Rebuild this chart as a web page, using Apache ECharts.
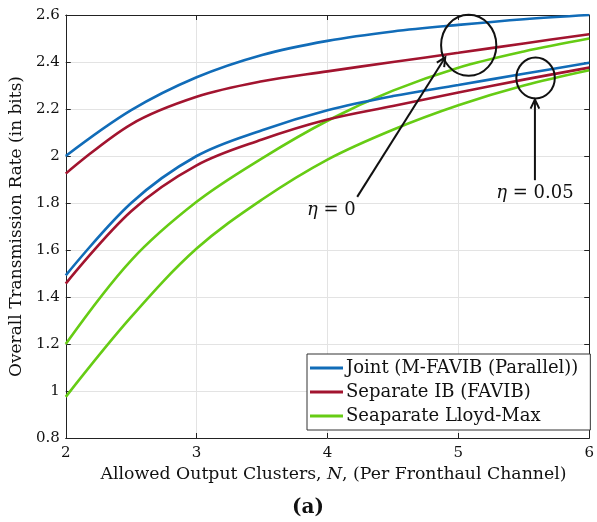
<!DOCTYPE html>
<html>
<head>
<meta charset="utf-8">
<script src="https://cdn.jsdelivr.net/npm/echarts@6/dist/echarts.min.js"></script>
<style>
  html, body { margin: 0; padding: 0; background: #fff; }
  #main { width: 597px; height: 522px; }
</style>
</head>
<body>
<div id="main"></div>
<script>
// N values (allowed output clusters)
var nVals = [2, 2.5, 3, 3.5, 4, 4.5, 5, 5.5, 6];

// eta = 0
var jointEta0    = [2.00, 2.195, 2.335, 2.430, 2.490, 2.530, 2.558, 2.582, 2.600];
var sepIbEta0    = [1.925, 2.135, 2.252, 2.318, 2.360, 2.400, 2.439, 2.479, 2.518];
var lloydEta0    = [1.20, 1.556, 1.805, 1.990, 2.150, 2.278, 2.376, 2.445, 2.500];
// eta = 0.05
var jointEta005  = [1.492, 1.800, 2.000, 2.110, 2.195, 2.255, 2.302, 2.350, 2.397];
var sepIbEta005  = [1.457, 1.765, 1.960, 2.070, 2.155, 2.213, 2.270, 2.325, 2.376];
var lloydEta005  = [0.975, 1.315, 1.606, 1.815, 1.985, 2.112, 2.216, 2.300, 2.365];

var legendNames = ['Joint (M-FAVIB (Parallel))', 'Separate IB (FAVIB)', 'Seaparate Lloyd-Max'];
var colors = ['#116cb8', '#a2142f', '#66cc14'];

var serif = 'DejaVu Serif';

function pairs(ys) {
  return nVals.map(function (n, i) { return [n, ys[i]]; });
}

function mkSeries(name, ys, color) {
  return {
    name: name,
    type: 'line',
    data: pairs(ys),
    smooth: 0.35,
    showSymbol: false,
    lineStyle: { color: color, width: 2.6 },
    itemStyle: { color: color },
    animation: false
  };
}

var chart = echarts.init(document.getElementById('main'));

var labelFmt = function (v) { return String(Math.round(v * 10) / 10); };

var option = {
  backgroundColor: '#fff',
  animation: false,
  grid: { left: 63, right: 4, top: 15, bottom: 84 },
  legend: {
    data: legendNames.map(function (n) { return { name: n, icon: 'rect' }; }),
    orient: 'vertical',
    left: 307,
    top: 354,
    itemWidth: 33,
    itemHeight: 3,
    itemGap: 6,
    padding: [5, 12, 5, 3],
    backgroundColor: '#fff',
    borderColor: '#333',
    borderWidth: 1,
    borderRadius: 0,
    textStyle: { fontFamily: serif, fontSize: 18, lineHeight: 16, color: '#111', padding: [0, 0, 0, -2] }
  },
  xAxis: [{
    type: 'value', min: 2, max: 6, interval: 1,
    name: 'Allowed Output Clusters, {i|N}, (Per Fronthaul Channel)',
    nameLocation: 'middle', nameGap: 27,
    nameTextStyle: { fontFamily: serif, fontSize: 17.3, color: '#111', padding: [0, 0, 0, 12],
      rich: { i: { fontFamily: serif, fontStyle: 'italic', fontSize: 17.3, color: '#111' } } },
    axisLine: { show: true, lineStyle: { color: '#222', width: 1 } },
    axisTick: { show: true, inside: true, length: 5, lineStyle: { color: '#222' } },
    axisLabel: { fontFamily: serif, fontSize: 15, color: '#111', margin: 8 },
    splitLine: { show: true, lineStyle: { color: '#e3e3e3', width: 1 } }
  }, {
    type: 'value', min: 2, max: 6, interval: 1, position: 'top',
    axisLine: { show: true, lineStyle: { color: '#222', width: 1 } },
    axisTick: { show: true, inside: true, length: 5, lineStyle: { color: '#222' } },
    axisLabel: { show: false }, splitLine: { show: false }
  }],
  yAxis: [{
    type: 'value', min: 0.8, max: 2.6, interval: 0.2,
    name: 'Overall Transmission Rate (in bits)',
    nameLocation: 'middle', nameGap: 35,
    nameTextStyle: { fontFamily: serif, fontSize: 17, color: '#111' },
    axisLine: { show: true, lineStyle: { color: '#222', width: 1 } },
    axisTick: { show: true, inside: true, length: 5, lineStyle: { color: '#222' } },
    axisLabel: { fontFamily: serif, fontSize: 15, color: '#111', margin: 6, formatter: labelFmt },
    splitLine: { show: true, lineStyle: { color: '#e3e3e3', width: 1 } }
  }, {
    type: 'value', min: 0.8, max: 2.6, interval: 0.2, position: 'right',
    axisLine: { show: true, lineStyle: { color: '#222', width: 1 } },
    axisTick: { show: true, inside: true, length: 5, lineStyle: { color: '#222' } },
    axisLabel: { show: false }, splitLine: { show: false }
  }],
  series: [
    mkSeries(legendNames[0], jointEta0, colors[0]),
    mkSeries(legendNames[1], sepIbEta0, colors[1]),
    mkSeries(legendNames[2], lloydEta0, colors[2]),
    mkSeries(legendNames[0], jointEta005, colors[0]),
    mkSeries(legendNames[1], sepIbEta005, colors[1]),
    mkSeries(legendNames[2], lloydEta005, colors[2])
  ]
};

chart.setOption(option);

// annotations placed in data coordinates
var ann = {
  circle0:  { c: [5.079, 2.471], rx: 0.211, ry: 0.13 },
  circle05: { c: [5.59, 2.332], rx: 0.147, ry: 0.087 },
  arrow0:   { from: [4.227, 1.826], to: [4.90, 2.42] },
  arrow05:  { from: [5.585, 1.897], to: [5.585, 2.24] },
  text0:    { at: [4.03, 1.77], txt: '{i|η} = 0' },
  text05:   { at: [5.585, 1.843], txt: '{i|η} = 0.05' }
};

function px(p) { return chart.convertToPixel({ gridIndex: 0 }, p); }

function ellipse(a) {
  var c = px(a.c);
  var e = px([a.c[0] + a.rx, a.c[1] + a.ry]);
  return {
    type: 'ellipse',
    shape: { cx: c[0], cy: c[1], rx: Math.abs(e[0] - c[0]), ry: Math.abs(c[1] - e[1]) },
    style: { fill: null, stroke: '#111', lineWidth: 2 },
    z: 100
  };
}

function arrow(a) {
  var p0 = px(a.from), p1 = px(a.to);
  var ang = Math.atan2(p1[1] - p0[1], p1[0] - p0[0]);
  var L = 10, w = 0.45;
  var h1 = [p1[0] - L * Math.cos(ang - w), p1[1] - L * Math.sin(ang - w)];
  var h2 = [p1[0] - L * Math.cos(ang + w), p1[1] - L * Math.sin(ang + w)];
  return [{
    type: 'line', shape: { x1: p0[0], y1: p0[1], x2: p1[0], y2: p1[1] },
    style: { stroke: '#111', lineWidth: 2 }, z: 100
  }, {
    type: 'polyline', shape: { points: [h1, p1, h2] },
    style: { stroke: '#111', lineWidth: 2, fill: null }, z: 100
  }];
}

function label(a) {
  var p = px(a.at);
  return {
    type: 'text', x: p[0], y: p[1], z: 100,
    style: {
      text: a.txt, fontFamily: serif, fontSize: 18, fill: '#111',
      align: 'center', verticalAlign: 'middle',
      rich: { i: { fontFamily: serif, fontStyle: 'italic', fontSize: 18, fill: '#111' } }
    }
  };
}

chart.setOption({
  graphic: [
    ellipse(ann.circle0),
    ellipse(ann.circle05)
  ].concat(arrow(ann.arrow0), arrow(ann.arrow05), [
    label(ann.text0),
    label(ann.text05),
    {
      type: 'text', x: 308, y: 508, z: 100,
      style: { text: '(a)', fontFamily: serif, fontSize: 20, fontWeight: 'bold', fill: '#111',
        align: 'center', verticalAlign: 'middle' }
    }
  ])
});
</script>
</body>
</html>
